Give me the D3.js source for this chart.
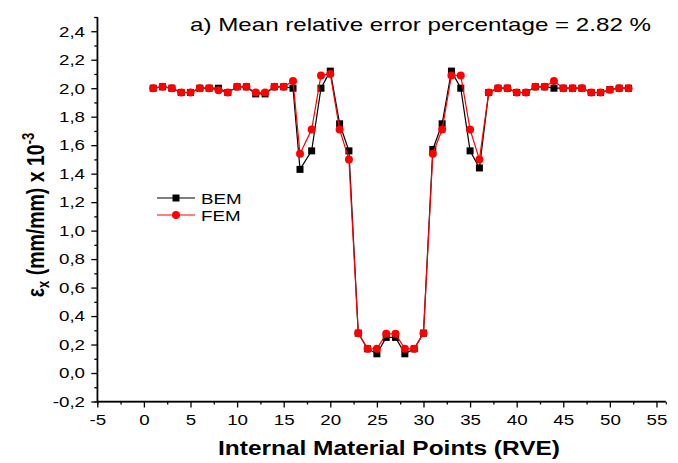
<!DOCTYPE html>
<html><head><meta charset="utf-8">
<script src="https://cdn.jsdelivr.net/npm/d3@7"></script>
<style>body{margin:0;background:#fff}svg{display:block}text{font-family:Arial,"Liberation Sans",sans-serif}</style>
</head><body>
<svg id="c" width="678" height="463"></svg>
<script>
const xPoints = [1,2,3,4,5,6,7,8,9,10,11,12,13,14,15,16,16.75,18,19,20,21,22,23,24,25,26,27,28,29,30,31,32,33,34,35,36,37,38,39,40,41,42,43,44,45,46,47,48,49,50,51,52];
const bem = [2.0,2.01,2.0,1.97,1.97,2.0,2.0,2.0,1.97,2.01,2.01,1.96,1.96,2.01,2.01,2.0,1.43,1.56,2.0,2.12,1.75,1.56,0.28,0.17,0.135,0.25,0.25,0.135,0.17,0.28,1.57,1.75,2.12,2.0,1.56,1.44,1.97,2.0,2.0,1.97,1.97,2.01,2.01,2.0,2.0,2.0,2.0,1.97,1.97,1.99,2.0,2.0];
const fem = [2.0,2.01,2.0,1.97,1.97,2.0,2.0,1.985,1.97,2.01,2.01,1.97,1.97,2.01,2.01,2.05,1.54,1.71,2.09,2.1,1.71,1.5,0.28,0.17,0.17,0.275,0.275,0.17,0.17,0.28,1.54,1.71,2.09,2.09,1.71,1.5,1.97,2.0,2.0,1.97,1.97,2.01,2.01,2.05,2.0,2.0,2.0,1.97,1.97,1.99,2.0,2.0];
const xTicks = [-5,0,5,10,15,20,25,30,35,40,45,50,55];
const yTicks = [-0.2,0,0.2,0.4,0.6,0.8,1.0,1.2,1.4,1.6,1.8,2.0,2.2,2.4];
const titleText = "a) Mean relative error percentage = 2.82 %";
const seriesNames = ["BEM","FEM"];

const SX = 1.25; // horizontal stretch of text in reference
const svg = d3.select("#c");
const x = d3.scaleLinear().domain([-5,56]).range([97.3, 665.8]);
const y = d3.scaleLinear().domain([-0.2,2.5]).range([401.5, 17]);
const fmtY = d => d3.format(".1f")(d).replace(".", ",").replace("\u2212","-");
const fmtX = d => String(d);

// x axis
const xAxis = svg.append("g").attr("transform",`translate(0,${y(-0.2)})`);
xAxis.call(d3.axisBottom(x).tickValues(xTicks).tickSize(6).tickPadding(7).tickFormat(fmtX));
xAxis.append("g").call(d3.axisBottom(x).tickValues(d3.range(-2.5,56,5)).tickSize(3).tickFormat(""));
// y axis
const yAxis = svg.append("g").attr("transform",`translate(${x(-5)},0)`);
yAxis.call(d3.axisLeft(y).tickValues(yTicks).tickSize(6).tickPadding(4).tickFormat(fmtY));
yAxis.append("g").call(d3.axisLeft(y).tickValues(d3.range(-0.1,2.55,0.2)).tickSize(3).tickFormat(""));
svg.selectAll(".tick line").attr("stroke","#000").attr("stroke-width",1.3);
svg.selectAll(".tick text").attr("font-size",15).attr("fill","#000");
xAxis.selectAll(".tick text").attr("transform",`scale(${SX},1)`);
yAxis.selectAll(".tick text").attr("x",-12.3/SX).attr("transform",`scale(${SX},1)`);
xAxis.select(".domain").attr("d", `M${x(-5)},0H${x(56)}`).attr("stroke","#000").attr("stroke-width",1.5);
yAxis.select(".domain").attr("d", `M0,${y(-0.2)}V${y(2.5)}`).attr("stroke","#000").attr("stroke-width",1.5);

const data = xPoints.map((xv,i)=>({x:xv,b:bem[i],f:fem[i]}));
const line = key => d3.line().x(d=>x(d.x)).y(d=>y(d[key]));
svg.append("path").datum(data).attr("d",line("b")).attr("fill","none").attr("stroke","#000").attr("stroke-width",1.2);
svg.selectAll(".sq").data(data).enter().append("rect")
  .attr("x",d=>x(d.x)-3.5).attr("y",d=>y(d.b)-3.5).attr("width",7).attr("height",7).attr("fill","#000");
svg.append("path").datum(data).attr("d",line("f")).attr("fill","none").attr("stroke","#f00").attr("stroke-width",1.2);
svg.selectAll(".ci").data(data).enter().append("circle")
  .attr("cx",d=>x(d.x)).attr("cy",d=>y(d.f)).attr("r",4).attr("fill","#f00");

// legend
const lg = svg.append("g");
[0,1].forEach(i=>{
  const yy = 198 + i*17;
  lg.append("line").attr("x1",157).attr("x2",195).attr("y1",yy).attr("y2",yy).attr("stroke", i?"#f00":"#000").attr("stroke-width",1.2);
  if(i===0) lg.append("rect").attr("x",176-3.5).attr("y",yy-3.5).attr("width",7).attr("height",7).attr("fill","#000");
  else lg.append("circle").attr("cx",176).attr("cy",yy).attr("r",4).attr("fill","#f00");
  lg.append("text").attr("transform",`translate(201,${yy+5.5}) scale(${SX},1)`).attr("font-size",15).text(seriesNames[i]);
});

// title
svg.append("text").attr("x",190).attr("y",31).attr("font-size",19)
  .attr("textLength",461).attr("lengthAdjust","spacingAndGlyphs").text(titleText);
// x label
svg.append("text").attr("x",218).attr("y",455).attr("font-size",20).attr("font-weight","bold")
  .attr("textLength",342).attr("lengthAdjust","spacingAndGlyphs").text("Internal Material Points (RVE)");
// y label
const yl = svg.append("text").attr("transform",`translate(44,215) scale(${SX},1) rotate(-90)`).attr("text-anchor","middle").attr("font-size",19.5).attr("font-weight","bold");
yl.append("tspan").text("ε");
yl.append("tspan").attr("font-size",13).attr("dy",4).text("x");
yl.append("tspan").attr("dy",-4).text(" (mm/mm) x 10");
yl.append("tspan").attr("font-size",13).attr("dy",-8).text("-3");
</script>
</body></html>
